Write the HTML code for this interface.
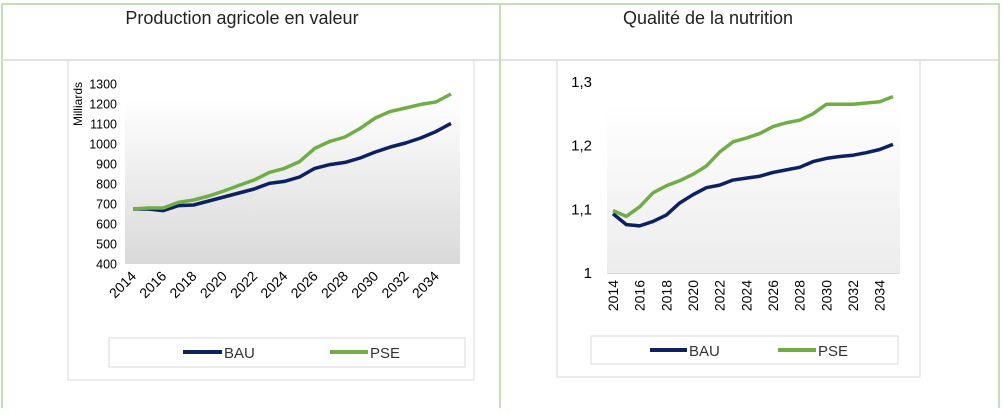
<!DOCTYPE html>
<html><head><meta charset="utf-8"><style>
html,body{margin:0;padding:0;background:#fff;}
body{width:1003px;height:408px;overflow:hidden;font-family:"Liberation Sans",sans-serif;}
</style></head><body>
<svg id="s" width="1003" height="408" xmlns="http://www.w3.org/2000/svg">
<defs>
<linearGradient id="g1" x1="0" y1="0" x2="0" y2="1"><stop offset="0" stop-color="#ffffff"/><stop offset="1" stop-color="#d9d9d9"/></linearGradient>
<linearGradient id="g2" x1="0" y1="0" x2="0" y2="1"><stop offset="0" stop-color="#ffffff"/><stop offset="1" stop-color="#ececec"/></linearGradient>
</defs>
<rect x="2" y="4" width="997" height="410" fill="none" stroke="#c4dfb4" stroke-width="2"/>
<line x1="2" y1="60" x2="999" y2="60" stroke="#d8d8d8" stroke-width="1.5"/>
<line x1="500" y1="4" x2="500" y2="408" stroke="#c4dfb4" stroke-width="2"/>
<text x="242" y="24" text-anchor="middle" font-family="'Liberation Sans Narrow','Liberation Sans',sans-serif" font-size="18" fill="#222">Production agricole en valeur</text>
<text x="708" y="24" text-anchor="middle" font-family="'Liberation Sans Narrow','Liberation Sans',sans-serif" font-size="18" fill="#222">Qualité de la nutrition</text>
<rect x="68" y="60" width="406" height="320" fill="none" stroke="#d9d9d9"/>
<rect x="557" y="60" width="363" height="317" fill="none" stroke="#d9d9d9"/>
<rect x="125" y="98" width="335" height="166" fill="url(#g1)"/>
<rect x="607" y="103" width="293" height="170" fill="url(#g2)"/>
<line x1="607" y1="273.5" x2="900" y2="273.5" stroke="#d9d9d9"/>
<text x="82" y="104" transform="rotate(-90 82 104)" text-anchor="middle" font-size="12" fill="#000">Milliards</text>
<rect x="109" y="338" width="356" height="29" fill="#fff" stroke="#d9d9d9"/>
<line x1="183" y1="352" x2="222" y2="352" stroke="#0d2160" stroke-width="4"/>
<text x="224" y="358" font-size="15" fill="#333">BAU</text>
<line x1="330" y1="352" x2="368" y2="352" stroke="#70ad47" stroke-width="4"/>
<text x="370" y="358" font-size="15" fill="#333">PSE</text>
<rect x="591" y="336" width="307" height="28" fill="#fff" stroke="#d9d9d9"/>
<line x1="650" y1="350" x2="687" y2="350" stroke="#0d2160" stroke-width="4"/>
<text x="689" y="356" font-size="15" fill="#333">BAU</text>
<line x1="778" y1="350" x2="816" y2="350" stroke="#70ad47" stroke-width="4"/>
<text x="818" y="356" font-size="15" fill="#333">PSE</text>
<g id="c1"></g><g id="c2"></g>
</svg>
<script>
const years = [2014,2015,2016,2017,2018,2019,2020,2021,2022,2023,2024,2025,2026,2027,2028,2029,2030,2031,2032,2033,2034,2035];
const prodBAU = [675,675,667,692,695,715,735,755,775,803,813,835,878,897,908,930,960,985,1005,1030,1062,1103];
const prodPSE = [675,680,680,708,720,740,765,793,820,858,878,912,978,1013,1035,1078,1130,1163,1180,1198,1210,1250];
const nutBAU = [1.093,1.076,1.074,1.081,1.091,1.110,1.123,1.134,1.138,1.146,1.149,1.152,1.158,1.162,1.166,1.175,1.180,1.183,1.185,1.189,1.194,1.202];
const nutPSE = [1.098,1.089,1.104,1.126,1.137,1.145,1.155,1.168,1.190,1.206,1.212,1.219,1.230,1.236,1.240,1.250,1.265,1.265,1.265,1.267,1.269,1.277];
const prodTicks = [400,500,600,700,800,900,1000,1100,1200,1300];
const nutTicks = [1,1.1,1.2,1.3];
const nutTickLabels = ["1","1,1","1,2","1,3"];
const NS="http://www.w3.org/2000/svg";
function mk(parent,tag,attrs){const e=document.createElementNS(NS,tag);for(const k in attrs)e.setAttribute(k,attrs[k]);parent.appendChild(e);return e;}
// chart 1
const g1=document.getElementById('c1');
const x1=i=>133+i*(451-133)/(years.length-1);
const y1=v=>264-(v-400)*(180/900);
prodTicks.forEach(t=>{const e=mk(g1,'text',{x:117,y:y1(t)+4.5,'text-anchor':'end','font-size':12.5,fill:'#000'});e.textContent=t;

});
years.forEach((yr,i)=>{if(i%2)return;const tx=x1(i)+4,ty=277;const e=mk(g1,'text',{x:tx,y:ty,'text-anchor':'end','font-size':14,fill:'#000',transform:`rotate(-45 ${tx} ${ty})`});e.textContent=yr;

});
[[prodBAU,'#0d2160','line-bau'],[prodPSE,'#70ad47','line-pse']].forEach(([d,c,n])=>{const p=mk(g1,'polyline',{points:d.map((v,i)=>x1(i)+','+y1(v)).join(' '),fill:'none',stroke:c,'stroke-width':3.5,'stroke-linejoin':'round'});

});
// chart 2
const g2=document.getElementById('c2');
const x2=i=>613+i*(893-613)/(years.length-1);
const y2=v=>273-(v-1)*(191/0.3);
nutTicks.forEach((t,k)=>{const e=mk(g2,'text',{x:592,y:y2(t)+5,'text-anchor':'end','font-size':15,fill:'#000'});e.textContent=nutTickLabels[k];

});
years.forEach((yr,i)=>{if(i%2)return;const tx=x2(i)+5,ty=280;const e=mk(g2,'text',{x:tx,y:ty,'text-anchor':'end','font-size':14,fill:'#000',transform:`rotate(-90 ${tx} ${ty})`});e.textContent=yr;

});
[[nutBAU,'#0d2160','line-bau'],[nutPSE,'#70ad47','line-pse']].forEach(([d,c,n])=>{const p=mk(g2,'polyline',{points:d.map((v,i)=>x2(i)+','+y2(v)).join(' '),fill:'none',stroke:c,'stroke-width':3.5,'stroke-linejoin':'round'});

});
</script>
</body></html>
